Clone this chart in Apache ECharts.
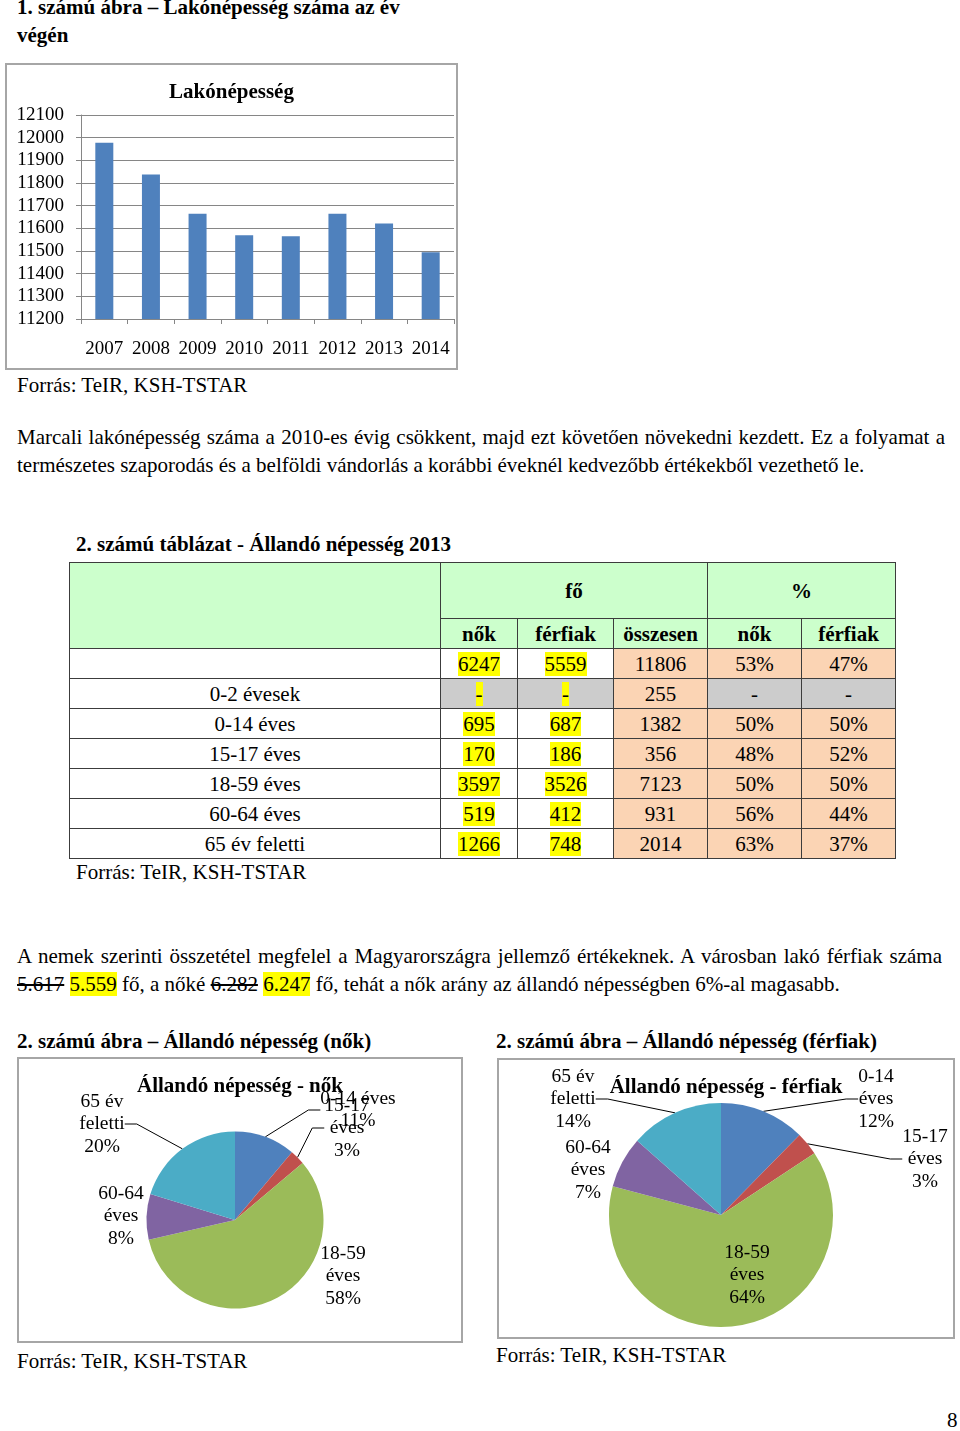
<!DOCTYPE html>
<html>
<head>
<meta charset="utf-8">
<script src="https://cdn.jsdelivr.net/npm/echarts@6/dist/echarts.min.js"></script>
<style>
html,body{margin:0;padding:0;background:#fff;}
body{width:960px;height:1431px;position:relative;overflow:hidden;font-family:"Liberation Serif","Times New Roman",serif;color:#000;}
.t{position:absolute;font-size:21px;line-height:28px;white-space:nowrap;}
.b{font-weight:bold;}
.j{text-align:justify;text-align-last:justify;white-space:normal;}
.box{position:absolute;box-sizing:border-box;border:2px solid #a6a6a6;pointer-events:none;z-index:2;}
.chart{position:absolute;}
.hl{background:#ffff00;}
#tbl{position:absolute;left:69px;top:562px;border-collapse:collapse;table-layout:fixed;font-size:21px;line-height:24px;width:826px;}
#tbl td{border:1px solid #3c3c3c;padding:0;text-align:center;vertical-align:middle;}
#tbl td.g{background:#ccffcc;}
#tbl td.p{background:#fbd4b4;}
#tbl td.gr{background:#cccccc;}
</style>
</head>
<body>
<div class="t b" style="left:17px;top:-7px;">1. számú ábra – Lakónépesség száma az év</div>
<div class="t b" style="left:17px;top:21px;">végén</div>

<div class="box" style="left:5px;top:63px;width:453px;height:307px;"></div>
<div id="bar" class="chart" style="left:5px;top:63px;width:453px;height:307px;"></div>

<div class="t" style="left:17px;top:371px;">Forrás: TeIR, KSH-TSTAR</div>

<div class="t j" style="left:17px;top:423px;width:928px;">Marcali lakónépesség száma a 2010-es évig csökkent, majd ezt követően növekedni kezdett. Ez a folyamat a</div>
<div class="t" style="left:17px;top:451px;">természetes szaporodás és a belföldi vándorlás a korábbi éveknél kedvezőbb értékekből vezethető le.</div>

<div class="t b" style="left:76px;top:530px;">2. számú táblázat - Állandó népesség 2013</div>

<table id="tbl"></table>

<div class="t" style="left:76px;top:858px;">Forrás: TeIR, KSH-TSTAR</div>

<div class="t j" style="left:17px;top:942px;width:925px;">A nemek szerinti összetétel megfelel a Magyarországra jellemző értékeknek. A városban lakó férfiak száma</div>
<div class="t" style="left:17px;top:970px;"><s>5.617</s> <span class="hl">5.559</span> fő, a nőké <s>6.282</s> <span class="hl">6.247</span> fő, tehát a nők arány az állandó népességben 6%-al magasabb.</div>

<div class="t b" style="left:17px;top:1027px;">2. számú ábra – Állandó népesség (nők)</div>
<div class="t b" style="left:496px;top:1027px;">2. számú ábra – Állandó népesség (férfiak)</div>

<div class="box" style="left:17px;top:1057px;width:446px;height:286px;"></div>
<div id="pieF" class="chart" style="left:17px;top:1057px;width:446px;height:286px;"></div>
<div class="box" style="left:497px;top:1058px;width:458px;height:281px;"></div>
<div id="pieM" class="chart" style="left:497px;top:1058px;width:458px;height:281px;"></div>

<div class="t" style="left:17px;top:1347px;">Forrás: TeIR, KSH-TSTAR</div>
<div class="t" style="left:496px;top:1341px;">Forrás: TeIR, KSH-TSTAR</div>
<div class="t" style="left:947px;top:1406px;">8</div>

<script>
// ---------- DATA ----------
const years = ['2007', '2008', '2009', '2010', '2011', '2012', '2013', '2014'];
const population = [11978, 11837, 11664, 11570, 11565, 11664, 11621, 11494];
const yTickMin = 11200, yTickMax = 12100, yTickStep = 100;

const ageGroups = ['0-14 éves', '15-17 éves', '18-59 éves', '60-64 éves', '65 év feletti'];
const femaleCounts = [695, 170, 3597, 519, 1266];
const maleCounts = [687, 186, 3526, 412, 748];
const femaleLabelNames = ['0-14 éves', '15-17\néves', '18-59\néves', '60-64\néves', '65 év\nfeletti'];
const maleLabelNames = ['0-14\néves', '15-17\néves', '18-59\néves', '60-64\néves', '65 év\nfeletti'];

const tableRowLabels = ['', '0-2 évesek', '0-14 éves', '15-17 éves', '18-59 éves', '60-64 éves', '65 év feletti'];
const tableFemale = ['6247', '-', '695', '170', '3597', '519', '1266'];
const tableMale = ['5559', '-', '687', '186', '3526', '412', '748'];
const tableTotal = ['11806', '255', '1382', '356', '7123', '931', '2014'];
const tableFemalePct = ['53%', '-', '50%', '48%', '50%', '56%', '63%'];
const tableMalePct = ['47%', '-', '50%', '52%', '50%', '44%', '37%'];

// ---------- LAYOUT / STYLE ----------
const F = '"Liberation Serif","Times New Roman",serif';
const pieColors = ['#4F81BD', '#C0504D', '#9BBB59', '#8064A2', '#4BACC6'];
const femaleLabelPos = [[341, 53], [330, 71], [326, 219], [104, 159], [85, 67]];
const maleLabelPos = [[379, 41], [428, 101], [250, 217], [91, 112], [76, 41]];
const femaleLeader = [true, true, false, false, true];
const maleLeader = [true, true, false, false, true];

// ---------- TABLE ----------
(function buildTable() {
  const t = document.getElementById('tbl');
  const widths = [371, 77, 96, 94, 94, 94];
  let html = '<colgroup>' + widths.map(w => '<col style="width:' + w + 'px">').join('') + '</colgroup>';
  html += '<tr style="height:56px"><td class="g" rowspan="2"></td><td class="g b" colspan="3">fő</td><td class="g b" colspan="2">%</td></tr>';
  html += '<tr style="height:30px"><td class="g b">nők</td><td class="g b">férfiak</td><td class="g b">összesen</td><td class="g b">nők</td><td class="g b">férfiak</td></tr>';
  for (let i = 0; i < tableRowLabels.length; i++) {
    const dash = tableFemale[i] === '-';
    const c = dash ? ' class="gr"' : '';
    html += '<tr style="height:30px">' +
      '<td>' + tableRowLabels[i] + '</td>' +
      '<td' + c + '><span class="hl">' + tableFemale[i] + '</span></td>' +
      '<td' + c + '><span class="hl">' + tableMale[i] + '</span></td>' +
      '<td class="p">' + tableTotal[i] + '</td>' +
      '<td class="' + (dash ? 'gr' : 'p') + '">' + tableFemalePct[i] + '</td>' +
      '<td class="' + (dash ? 'gr' : 'p') + '">' + tableMalePct[i] + '</td></tr>';
  }
  t.innerHTML = html;
})();

// ---------- BAR CHART ----------
const axisGray = '#868686';
const bar = echarts.init(document.getElementById('bar'));
bar.setOption({
  animation: false,
  title: {
    text: 'Lakónépesség', left: 'center', top: 14,
    textStyle: { fontFamily: F, fontSize: 21, fontWeight: 'bold', color: '#000' }
  },
  grid: { left: 76, top: 52, right: 4, bottom: 51 },
  xAxis: {
    type: 'category', data: years,
    axisLine: { lineStyle: { color: axisGray } },
    axisTick: { show: true, length: 5, interval: 0, lineStyle: { color: axisGray } },
    axisLabel: { fontFamily: F, fontSize: 19, color: '#000', margin: 21, interval: 0 }
  },
  yAxis: {
    type: 'value', min: yTickMin, max: yTickMax, interval: yTickStep,
    axisLine: { show: true, lineStyle: { color: axisGray } },
    axisTick: { show: true, length: 5, lineStyle: { color: axisGray } },
    splitLine: { lineStyle: { color: axisGray } },
    axisLabel: { fontFamily: F, fontSize: 19, color: '#000', margin: 17, formatter: v => String(v) }
  },
  series: [{ type: 'bar', data: population, barWidth: 18, itemStyle: { color: '#4F81BD' } }]
});

// ---------- PIE CHARTS ----------
function pieOption(title, counts, names, radius, center, pos, leader) {
  return {
    animation: false,
    color: pieColors,
    title: {
      text: title, left: 'center', top: 14,
      textStyle: { fontFamily: F, fontSize: 21, fontWeight: 'bold', color: '#000' }
    },
    series: [{
      type: 'pie', radius: radius, center: center, startAngle: 90, clockwise: true,
      percentPrecision: 0, avoidLabelOverlap: false,
      itemStyle: { borderWidth: 0 },
      data: ageGroups.map((n, i) => ({ name: n, value: counts[i], labelLine: { show: leader[i] } })),
      label: {
        show: true, position: 'outside',
        formatter: p => names[p.dataIndex] + '\n' + p.percent + '%',
        fontFamily: F, fontSize: 19.5, lineHeight: 22.5, color: '#000', align: 'center'
      },
      labelLine: { show: true, length: 10, length2: 12, lineStyle: { color: '#000', width: 1 } },
      labelLayout: p => ({ x: pos[p.dataIndex][0], y: pos[p.dataIndex][1], align: 'center', verticalAlign: 'middle' }),
      emphasis: { disabled: true }
    }]
  };
}
echarts.init(document.getElementById('pieF')).setOption(
  pieOption('Állandó népesség - nők', femaleCounts, femaleLabelNames, 88.5, [218, 163], femaleLabelPos, femaleLeader));
echarts.init(document.getElementById('pieM')).setOption(
  pieOption('Állandó népesség - férfiak', maleCounts, maleLabelNames, 112, [224, 157], maleLabelPos, maleLeader));
</script>
</body>
</html>
